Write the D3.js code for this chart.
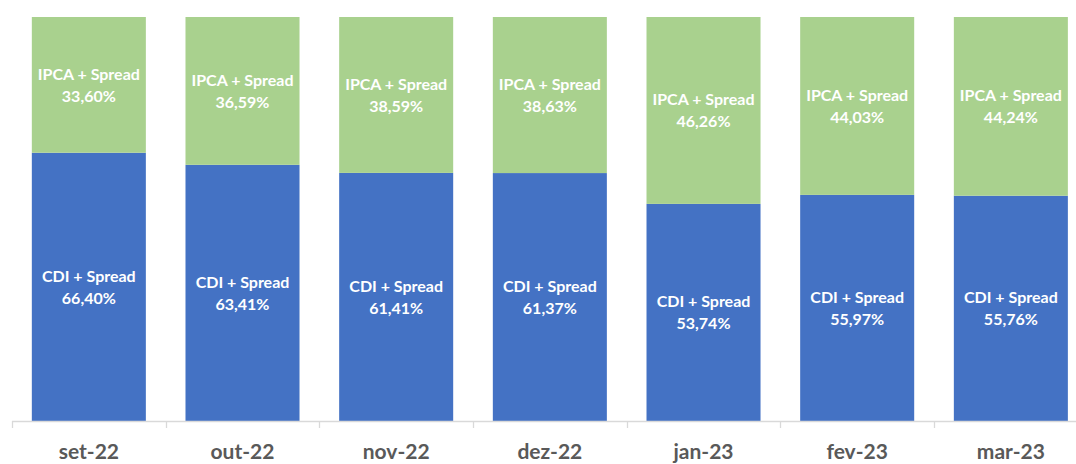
<!DOCTYPE html>
<html><head><meta charset="utf-8">
<script src="https://cdn.jsdelivr.net/npm/d3@7"></script>
<style>html,body{margin:0;padding:0;background:#fff;}svg{display:block;}</style>
</head><body>
<svg id="chart" width="1076" height="464"></svg>
<script>
const categories = ["set-22","out-22","nov-22","dez-22","jan-23","fev-23","mar-23"];
const cdiValues = [66.40, 63.41, 61.41, 61.37, 53.74, 55.97, 55.76];
const ipcaValues = [33.60, 36.59, 38.59, 38.63, 46.26, 44.03, 44.24];
const seriesNames = ["CDI + Spread", "IPCA + Spread"];

(function(){
const W = 1076, H = 464;
const left = 12, bandW = 153.67;
const plotTop = 17, plotBottom = 421;
const svg = d3.select("#chart");

const x = d3.scaleBand().domain(categories).range([left, left + bandW*7]).paddingInner(0.258).paddingOuter(0.129);
const y = d3.scaleLinear().domain([0, 100]).range([plotBottom, plotTop]);

const data = categories.map((c,i)=>({cat:c, cdi:cdiValues[i], ipca:ipcaValues[i]}));
const stack = d3.stack().keys(["cdi","ipca"]);
const series = stack(data);
const colors = {cdi:"#4472C4", ipca:"#A9D18E"};
const names = {cdi:seriesNames[0], ipca:seriesNames[1]};
const fmt = v => v.toFixed(2).replace(".", ",") + "%";

series.forEach(s => {
  const g = svg.append("g");
  g.selectAll("rect").data(s).enter().append("rect")
    .attr("x", d => x(d.data.cat))
    .attr("width", x.bandwidth())
    .attr("y", d => y(d[1]))
    .attr("height", d => y(d[0]) - y(d[1]))
    .attr("fill", colors[s.key]);
  const t = g.selectAll("text").data(s).enter().append("text")
    .attr("x", d => x(d.data.cat) + x.bandwidth()/2)
    .attr("y", d => (y(d[0]) + y(d[1]))/2)
    .attr("text-anchor", "middle")
    .attr("fill", "#ffffff")
    .style("font-family", "Lato, 'Open Sans', sans-serif")
    .style("font-weight", "bold")
    .style("font-size", "16px");
  t.append("tspan").attr("x", d => x(d.data.cat) + x.bandwidth()/2).attr("dy", -5).text(names[s.key]);
  t.append("tspan").attr("x", d => x(d.data.cat) + x.bandwidth()/2).attr("dy", 22).text(d => fmt(d.data[s.key]));
});

const axisG = svg.append("g");
axisG.append("line").attr("x1", left).attr("x2", W).attr("y1", plotBottom+0.5).attr("y2", plotBottom+0.5)
  .attr("stroke", "#d9d9d9").attr("stroke-width", 1.3);
const ticks = d3.range(categories.length+1).map(i => left + i*bandW);
axisG.selectAll("line.tick").data(ticks).enter().append("line").attr("class","tick")
  .attr("x1", d => Math.round(d)+0.5).attr("x2", d => Math.round(d)+0.5)
  .attr("y1", plotBottom).attr("y2", plotBottom+7)
  .attr("stroke", "#d9d9d9").attr("stroke-width", 1.3);
axisG.selectAll("text").data(categories).enter().append("text")
  .attr("x", d => x(d) + x.bandwidth()/2)
  .attr("y", 459)
  .attr("text-anchor", "middle")
  .attr("fill", "#595959")
  .style("font-family", "Lato, 'Open Sans', sans-serif")
  .style("font-weight", "bold")
  .style("font-size", "21px")
  .text(d => d);
})();
</script>
</body></html>
